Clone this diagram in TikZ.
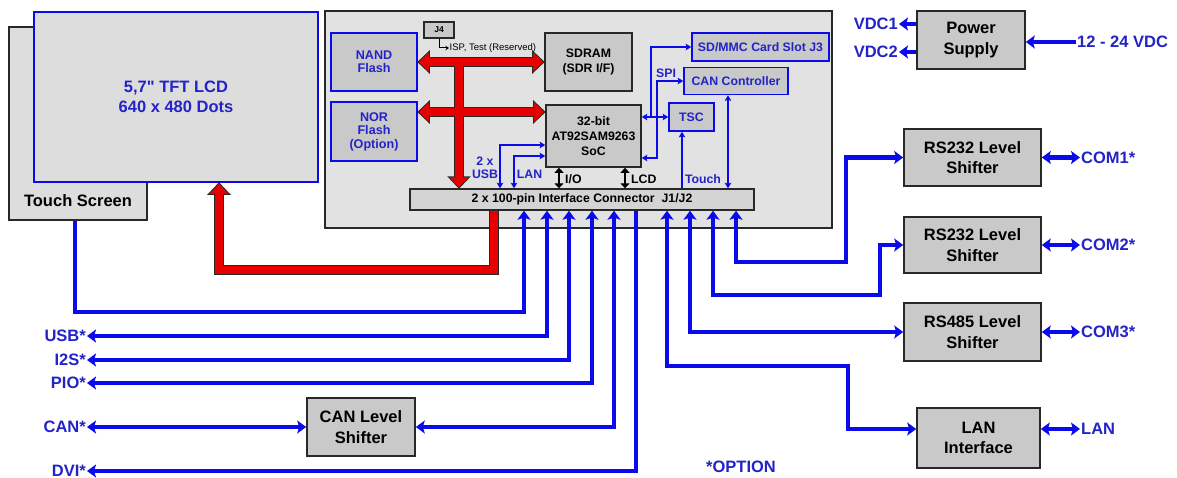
\documentclass[tikz,border=0pt]{standalone}
\usepackage{fontspec}
\setmainfont{Liberation Sans}[Ligatures=TeXOff]
\usetikzlibrary{arrows.meta,calc}
\definecolor{lb}{RGB}{10,10,235}
\definecolor{tb}{RGB}{35,35,200}
\definecolor{bf}{RGB}{226,226,226}
\definecolor{bx}{RGB}{201,201,201}
\definecolor{lf}{RGB}{221,221,221}
\definecolor{rd}{RGB}{230,0,0}
\definecolor{ol}{RGB}{40,40,40}
\newcommand\bigf{\fontsize{16.5}{20.5}\selectfont\bfseries}
\newcommand\medf{\fontsize{12.3}{14.5}\selectfont\bfseries}
\newcommand\smf{\fontsize{9.5}{11}\selectfont}
\begin{document}
\begin{tikzpicture}[x=1pt,y=-1pt,
  kbox/.style={draw=ol, line width=1.6pt, fill=bx, inner sep=0pt, align=center},
  bbox/.style={draw=lb, line width=1.6pt, fill=bx, inner sep=0pt, align=center, text=tb},
  btxt/.style={text=tb, font=\bigf, inner sep=1pt},
  mtxt/.style={font=\medf, inner sep=0pt, align=center},
  ext/.style={draw=lb, line width=4.5pt, >={Stealth[length=9pt,width=13pt,inset=2pt]}},
  int/.style={draw=lb, line width=1.6pt, >={Stealth[length=5.5pt,width=6.5pt,inset=1pt]}},
  iod/.style={draw=black, line width=1.5pt, {Triangle[length=5pt,width=9pt]}-{Triangle[length=5pt,width=9pt]}},
]
\useasboundingbox (0,0) rectangle (1177,478);
\fill[white] (0,0) rectangle (1177,478);

% display
\node[kbox, fill=lf, minimum width=138pt, minimum height=193pt] (ts) at (78,123.5) {};
\node[font=\bigf, inner sep=0pt] (tst) at (78,201) {Touch Screen};
\node[bbox, fill=lf, minimum width=284pt, minimum height=170pt, font=\bigf] (lcd) at (176,97) {5,7" TFT LCD\\640 x 480 Dots};

% board
\node[kbox, fill=bf, line width=1.8pt, minimum width=507pt, minimum height=217pt] (board) at (578.5,119.5) {};
\node[bbox, minimum width=86pt, minimum height=58pt, font=\fontsize{12.6}{13}\selectfont\bfseries] (nand) at (374,62) {NAND\\Flash};
\node[bbox, minimum width=86pt, minimum height=59pt, font=\fontsize{12.6}{13.5}\selectfont\bfseries] (nor) at (374,131.5) {NOR\\Flash\\(Option)};
\node[kbox, minimum width=30pt, minimum height=16pt, font=\fontsize{8.5}{9}\selectfont\bfseries, line width=1.2pt] (j4) at (439,30) {J4};
\node[anchor=west, font=\smf, inner sep=0.5pt] (isp) at (449,48) {ISP, Test (Reserved)};
\node[kbox, minimum width=87pt, minimum height=58pt, font=\fontsize{12.3}{15}\selectfont\bfseries] (sdram) at (588.5,62) {SDRAM\\(SDR I/F)};
\node[kbox, minimum width=95pt, minimum height=62pt, font=\fontsize{12.3}{15}\selectfont\bfseries] (soc) at (593.5,136) {32-bit\\AT92SAM9263\\SoC};
\node[bbox, minimum width=137pt, minimum height=28pt, font=\medf] (sdmmc) at (760.5,47) {SD/MMC Card Slot J3};
\node[bbox, minimum width=104pt, minimum height=27pt, font=\medf] (canctrl) at (736,81) {CAN Controller};
\node[bbox, minimum width=45pt, minimum height=28pt, font=\medf] (tsc) at (691.5,117) {TSC};
\node[kbox, fill=bx!80!white, line width=1.4pt, minimum width=344pt, minimum height=21pt, font=\medf] (conn) at (582,199.5) {2 x 100-pin Interface Connector\ \ J1/J2};

% board labels
\node[mtxt, text=tb, font=\fontsize{12.3}{12.5}\selectfont\bfseries] (usbt) at (485,168) {2 x\\USB};
\node[mtxt, text=tb] (lant) at (529.5,174) {LAN};
\node[mtxt, text=tb] (spit) at (666,73) {SPI};
\node[mtxt, text=tb] (tcht) at (703,179) {Touch};
\node[mtxt, anchor=west] (iot) at (565,179) {I/O};
\node[mtxt, anchor=west] (lcdt) at (631,179) {LCD};

% internal connectors
\coordinate (usbc) at (500,145);
\coordinate (lanc) at (514,156);
\coordinate (sdc) at (651,117);
\coordinate (spic) at (657,158);
\coordinate (tch) at (682,150);
\coordinate (canx) at (728,150);
\coordinate (iox) at (559,0);
\coordinate (lcdax) at (625,0);
\draw[int,<->] (conn.north -| usbc) |- (soc.west |- usbc);
\draw[int,<->] (conn.north -| lanc) |- (soc.west |- lanc);
\draw[int,<->] (soc.east |- sdc) -- (sdc) |- (sdmmc.west);
\draw[int,->] (sdc) -- (tsc.west);
\draw[int,<->] (soc.east |- spic) -- (spic) |- (canctrl.west);
\draw[int,->] (conn.north -| tch) -- (tsc.south -| tch);
\draw[int,<->] (conn.north -| canx) -- (canctrl.south -| canx);
\draw[iod] (soc.south -| iox) -- (conn.north -| iox);
\draw[iod] (soc.south -| lcdax) -- (conn.north -| lcdax);
\draw[black, line width=1pt, -{Stealth[length=3.5pt,width=4.5pt]}] (j4.south) |- (isp.west);

% red buses
\coordinate (bus) at (459,112);
\coordinate (lcdx) at (219,270);
\coordinate (t1) at ($(nand.east)+(1,0)$);
\coordinate (t2) at ($(sdram.west)+(-1,0)$);
\coordinate (t3) at ($(nor.east |- bus)+(1,0)$);
\coordinate (t4) at ($(soc.west |- bus)+(-1,0)$);
\coordinate (t5) at ($(conn.north -| bus)+(0,-1)$);
\coordinate (t6) at ($(lcd.south -| lcdx)+(0,1)$);
\coordinate (t7) at ($(conn.south)+(-88,0)$);
\begin{scope}[line join=miter]
\draw[ol, line width=10pt] ($(t1)+(8,0)$) -- ($(t2)+(-8,0)$)
  ($(t3)+(8,0)$) -- ($(t4)+(-8,0)$)
  (t1 -| bus) -- ($(t5)+(0,-8)$)
  (t7) |- (lcdx) -- ($(t6)+(0,8)$);
\filldraw[ol, line width=2pt]
  (t1) -- ++(10,-9.5) -- ++(0,19) -- cycle
  (t3) -- ++(10,-9.5) -- ++(0,19) -- cycle
  (t2) -- ++(-10,-9.5) -- ++(0,19) -- cycle
  (t4) -- ++(-10,-9.5) -- ++(0,19) -- cycle
  (t5) -- ++(-9.5,-10) -- ++(19,0) -- cycle
  (t6) -- ++(-9.5,10) -- ++(19,0) -- cycle;
\draw[rd, line width=8pt] ($(t1)+(8,0)$) -- ($(t2)+(-8,0)$)
  ($(t3)+(8,0)$) -- ($(t4)+(-8,0)$)
  (t1 -| bus) -- ($(t5)+(0,-8)$)
  (t7) |- (lcdx) -- ($(t6)+(0,8)$);
\fill[rd]
  (t1) -- ++(10,-9.5) -- ++(0,19) -- cycle
  (t3) -- ++(10,-9.5) -- ++(0,19) -- cycle
  (t2) -- ++(-10,-9.5) -- ++(0,19) -- cycle
  (t4) -- ++(-10,-9.5) -- ++(0,19) -- cycle
  (t5) -- ++(-9.5,-10) -- ++(19,0) -- cycle
  (t6) -- ++(-9.5,10) -- ++(19,0) -- cycle;
\end{scope}

% outside boxes
\node[kbox, minimum width=108pt, minimum height=58pt, font=\bigf] (ps) at (971,40) {Power\\Supply};
\node[kbox, minimum width=137pt, minimum height=57pt, font=\bigf] (rs1) at (972.5,157.5) {RS232 Level\\Shifter};
\node[kbox, minimum width=137pt, minimum height=56pt, font=\bigf] (rs2) at (972.5,245) {RS232 Level\\Shifter};
\node[kbox, minimum width=137pt, minimum height=58pt, font=\bigf] (rs485) at (972.5,332) {RS485 Level\\Shifter};
\node[kbox, minimum width=123pt, minimum height=60pt, font=\bigf] (lanif) at (978.5,438) {LAN\\Interface};
\node[kbox, minimum width=108pt, minimum height=58pt, font=\bigf] (canls) at (361,427) {CAN Level\\Shifter};

% outside labels
\node[btxt, anchor=east] (vdc1) at (899,24) {VDC1};
\node[btxt, anchor=east] (vdc2) at (899,52) {VDC2};
\node[btxt, anchor=west] (vin) at (1076,42) {12 - 24 VDC};
\node[btxt, anchor=west] (com1) at (1080,157.5) {COM1*};
\node[btxt, anchor=west] (com2) at (1080,245) {COM2*};
\node[btxt, anchor=west] (com3) at (1080,332) {COM3*};
\node[btxt, anchor=west] (lanl) at (1080,429) {LAN};
\node[btxt, anchor=east] (usbl) at (87,336) {USB*};
\node[btxt, anchor=east] (i2sl) at (87,360) {I2S*};
\node[btxt, anchor=east] (piol) at (87,383) {PIO*};
\node[btxt, anchor=east] (canl) at (87,427) {CAN*};
\node[btxt, anchor=east] (dvil) at (87,471) {DVI*};
\node[btxt] (opt) at (741,467) {*OPTION};

% external connectors
\coordinate (tsl) at (75,312);
\coordinate (c1) at (524,312);
\coordinate (c2) at (547,336);
\coordinate (c3) at (569,360);
\coordinate (c4) at (592,383);
\coordinate (c5) at (614,427);
\coordinate (c6) at (636,471);
\coordinate (c7) at (667,366);
\coordinate (c7b) at (848,366);
\coordinate (c7c) at (848,429);
\coordinate (c8) at (690,332);
\coordinate (c9) at (713,295);
\coordinate (c9b) at (880,295);
\coordinate (c10) at (736,262);
\coordinate (c10b) at (846,262);

\draw[ext,->] (ts.south -| tsl) -- (tsl) -- (c1) -- (conn.south -| c1);
\draw[ext,<->] (usbl.east) -- (c2) -- (conn.south -| c2);
\draw[ext,<->] (i2sl.east) -- (c3) -- (conn.south -| c3);
\draw[ext,<->] (piol.east) -- (c4) -- (conn.south -| c4);
\draw[ext,<->] (canl.east) -- (canls.west);
\draw[ext,<->] (canls.east |- c5) -- (c5) -- (conn.south -| c5);
\draw[ext,->] (conn.south -| c6) -- (c6) -- (dvil.east);
\draw[ext,<->] (conn.south -| c7) -- (c7) -- (c7b) -- (c7c) -- (lanif.west |- c7c);
\draw[ext,<->] (conn.south -| c8) -- (c8) -- (rs485.west |- c8);
\draw[ext,<->] (conn.south -| c9) -- (c9) -- (c9b) |- (rs2.west);
\draw[ext,<->] (conn.south -| c10) -- (c10) -- (c10b) |- (rs1.west);

\draw[ext,->] (ps.west |- vdc1) -- (vdc1.east);
\draw[ext,->] (ps.west |- vdc2) -- (vdc2.east);
\draw[ext,->] (vin.west) -- (ps.east |- vin);
\draw[ext,<->] (rs1.east) -- (com1.west);
\draw[ext,<->] (rs2.east) -- (com2.west);
\draw[ext,<->] (rs485.east |- com3) -- (com3.west);
\draw[ext,<->] (lanif.east |- lanl) -- (lanl.west);
\end{tikzpicture}
\end{document}
